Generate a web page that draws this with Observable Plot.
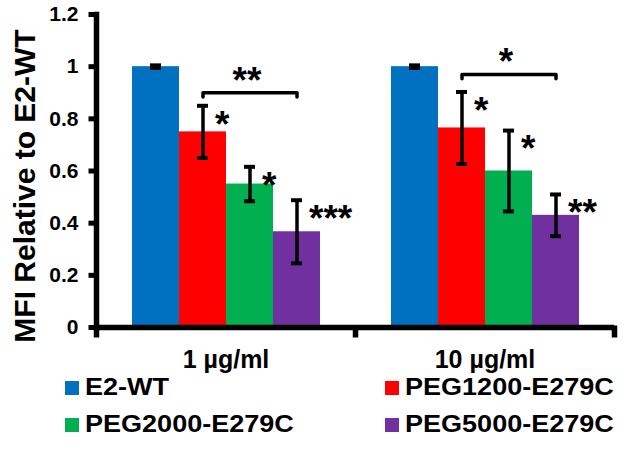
<!DOCTYPE html>
<html>
<head>
<meta charset="utf-8">
<script src="https://cdn.jsdelivr.net/npm/d3@7"></script>
<script src="https://cdn.jsdelivr.net/npm/@observablehq/plot@0.6"></script>
<style>
  html, body { margin: 0; padding: 0; background: #fff; }
  body { position: relative; width: 624px; height: 458px; overflow: hidden; font-family: "Liberation Sans", Arial, sans-serif; }
  #chart svg { overflow: visible; display: block; }
  #legend { position: absolute; top: 369px; left: 0; width: 624px; }
  .row { height: 37px; position: relative; }
  .item { display: flex; align-items: center; position: absolute; top: 0; height: 37px; }
  .sw { width: 14px; height: 14px; display: inline-block; margin-right: 6px; }
  .lab { display: inline-block; font-weight: bold; font-size: 23.5px; color: #000; transform: scaleX(1.15); transform-origin: left center; white-space: nowrap; }
</style>
</head>
<body>
<div id="chart"></div>
<div id="legend"></div>
<script>
// ---- data ----
const concentrations = ["1 µg/ml", "10 µg/ml"];
const series = ["E2-WT", "PEG1200-E279C", "PEG2000-E279C", "PEG5000-E279C"];
const colors = ["#0070C0", "#FF0000", "#00B050", "#7030A0"];
const means1 = [1.0, 0.75, 0.55, 0.367];
const errs1 = [0.005, 0.10, 0.066, 0.121];
const means10 = [1.0, 0.765, 0.60, 0.43];
const errs10 = [0.005, 0.138, 0.155, 0.08];
const sig1 = ["", "*", "*", "***"];
const sig10 = ["", "*", "*", "**"];
const bracketFrom = "PEG1200-E279C";
const bracketTo = "PEG5000-E279C";
const bracketMid = "PEG2000-E279C";
const bracketY = [0.90, 0.97];
const bracketSig = ["**", "*"];
const yTicks = [0, 0.2, 0.4, 0.6, 0.8, 1.0, 1.2];
const yTickLabels = ["0", "0.2", "0.4", "0.6", "0.8", "1", "1.2"];
const yTitle = "MFI Relative to E2-WT";

// ---- build tables ----
const table = [];
[[means1, errs1, sig1], [means10, errs10, sig10]].forEach(([m, e, s], gi) => {
  series.forEach((name, i) => {
    table.push({conc: concentrations[gi], series: name, value: m[i], err: e[i], sig: s[i]});
  });
});
const bracket = [];
concentrations.forEach((c, gi) => {
  const yb = bracketY[gi];
  bracket.push({conc: c, series: bracketFrom, y: yb - 0.016});
  bracket.push({conc: c, series: bracketFrom, y: yb});
  bracket.push({conc: c, series: bracketTo, y: yb});
  bracket.push({conc: c, series: bracketTo, y: yb - 0.016});
});
const bracketLabels = concentrations.map((c, gi) => ({conc: c, series: bracketMid, y: bracketY[gi], text: bracketSig[gi]}));
const yAxisData = yTicks.map((v, i) => ({conc: concentrations[0], v, label: yTickLabels[i]}));

const vStub = {draw(ctx) { ctx.moveTo(0, -2); ctx.lineTo(0, 10); }};
const hStub = {draw(ctx) { ctx.moveTo(-8, 0); ctx.lineTo(0, 0); }};

const chart = Plot.plot({
  width: 624,
  height: 378,
  marginLeft: 95,
  marginRight: 10,
  marginTop: 14,
  marginBottom: 51,
  style: {fontFamily: '"Liberation Sans", Arial, sans-serif', fontWeight: "bold", color: "black", background: "white"},
  fx: {domain: concentrations, padding: 0, label: null, axis: null},
  x: {domain: series, axis: null, paddingInner: 0, paddingOuter: 0.73},
  y: {domain: [0, 1.2], axis: null},
  color: {domain: series, range: colors},
  marks: [
    Plot.barY(table, {fx: "conc", x: "series", y: "value", fill: "series"}),
    Plot.frame({anchor: "left", facetAnchor: "left", stroke: "black", strokeWidth: 5.5}),
    Plot.dot(yAxisData, {fx: "conc", y: "v", frameAnchor: "left", symbol: hStub, stroke: "black", strokeWidth: 5, fill: "none"}),
    Plot.text(yAxisData, {fx: "conc", y: "v", text: "label", frameAnchor: "left", textAnchor: "end", dx: -18, fontSize: 21}),
    Plot.ruleY([0], {strokeWidth: 5.5, stroke: "black"}),
    Plot.dot(concentrations.map(c => ({conc: c})), {fx: "conc", frameAnchor: "bottom-left", symbol: vStub, stroke: "black", strokeWidth: 5.5, fill: "none"}),
    Plot.dot([{conc: concentrations[1]}], {fx: "conc", frameAnchor: "bottom-right", symbol: vStub, stroke: "black", strokeWidth: 5.5, fill: "none"}),
    Plot.axisFx({anchor: "bottom", tickSize: 0, tickPadding: 23, fontSize: 25, label: null}),
    Plot.ruleX(table, {fx: "conc", x: "series", y1: d => d.value - d.err, y2: d => d.value + d.err, stroke: "black", strokeWidth: 3.5}),
    Plot.tickY(table, {fx: "conc", x: "series", y: d => d.value + d.err, stroke: "black", strokeWidth: 4, insetLeft: 18, insetRight: 18}),
    Plot.tickY(table, {fx: "conc", x: "series", y: d => d.value - d.err, stroke: "black", strokeWidth: 4, insetLeft: 18, insetRight: 18}),
    Plot.text(table, {fx: "conc", x: "series", y: d => d.value + d.err, text: "sig", textAnchor: "start", dx: 12, dy: 19, fontSize: 37, ariaLabel: "stars"}),
    Plot.line(bracket, {fx: "conc", x: "series", y: "y", stroke: "black", strokeWidth: 3.5, strokeLinejoin: "round", strokeLinecap: "round"}),
    Plot.text(bracketLabels, {fx: "conc", x: "series", y: "y", text: "text", dx: -3, dy: -12, fontSize: 37, ariaLabel: "stars"}),
    Plot.text([{conc: concentrations[0], t: yTitle}], {fx: "conc", text: "t", frameAnchor: "left", textAnchor: "middle", rotate: -90, dx: -71, dy: 15, fontSize: 30})
  ]
});
document.getElementById("chart").appendChild(chart);

// ---- legend ----
const legend = document.getElementById("legend");
const cols = [65, 385];
for (let r = 0; r < 2; r++) {
  const row = document.createElement("div");
  row.className = "row";
  for (let c = 0; c < 2; c++) {
    const i = r * 2 + c;
    const item = document.createElement("div");
    item.className = "item";
    item.style.left = cols[c] + "px";
    const sw = document.createElement("span");
    sw.className = "sw";
    sw.style.background = colors[i];
    const lab = document.createElement("span");
    lab.className = "lab";
    lab.textContent = series[i];
    item.appendChild(sw);
    item.appendChild(lab);
    row.appendChild(item);
  }
  legend.appendChild(row);
}
</script>
</body>
</html>
